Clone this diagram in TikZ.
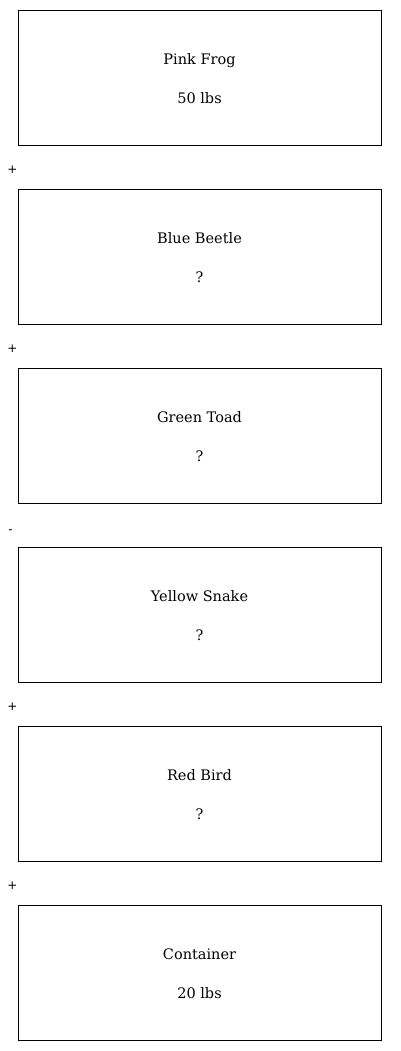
\documentclass[tikz,border=0pt]{standalone}
\usepackage{fontspec}
\setmainfont{DejaVu Serif}
\newfontfamily\opfont{DejaVu Sans}
\begin{document}
\begin{tikzpicture}[x=1pt,y=-1pt,
    animalbox/.style={draw,line width=0.8pt,minimum width=363pt,minimum height=135pt,inner sep=0pt},
    animaltext/.style={align=center,inner sep=0pt,yshift=-1.5pt,font=\fontsize{14.5}{39}\selectfont},
    opsign/.style={font=\opfont\fontsize{12}{14}\selectfont,inner sep=0pt}]
    \useasboundingbox (0,0) rectangle (400,1051);
    \node[animalbox] (frog) at (199.5,77.5) {}; %1段目
    \node[animaltext] (frogtext) at (frog.center) {Pink Frog\\50 lbs};
    \node[opsign] (op1) at (12.5,169.5) {+};
    \node[animalbox] (beetle) at (199.5,256.5) {};
    \node[animaltext] (beetletext) at (beetle.center) {Blue Beetle\\?};
    \node[opsign] (op2) at (12.5,348.5) {+};
    \node[animalbox] (toad) at (199.5,435.5) {};
    \node[animaltext] (toadtext) at (toad.center) {Green Toad\\?};
    \node[opsign] (op3) at (10.5,531.5) {-};
    \node[animalbox] (snake) at (199.5,614.5) {};
    \node[animaltext] (snaketext) at (snake.center) {Yellow Snake\\?};
    \node[opsign] (op4) at (12.5,706.5) {+};
    \node[animalbox] (bird) at (199.5,793.5) {};
    \node[animaltext] (birdtext) at (bird.center) {Red Bird\\?};
    \node[opsign] (op5) at (12.5,885.5) {+};
    \node[animalbox] (box) at (199.5,972.5) {};
    \node[animaltext] (boxtext) at (box.center) {Container\\20 lbs}; %最後
\end{tikzpicture}
\end{document}
